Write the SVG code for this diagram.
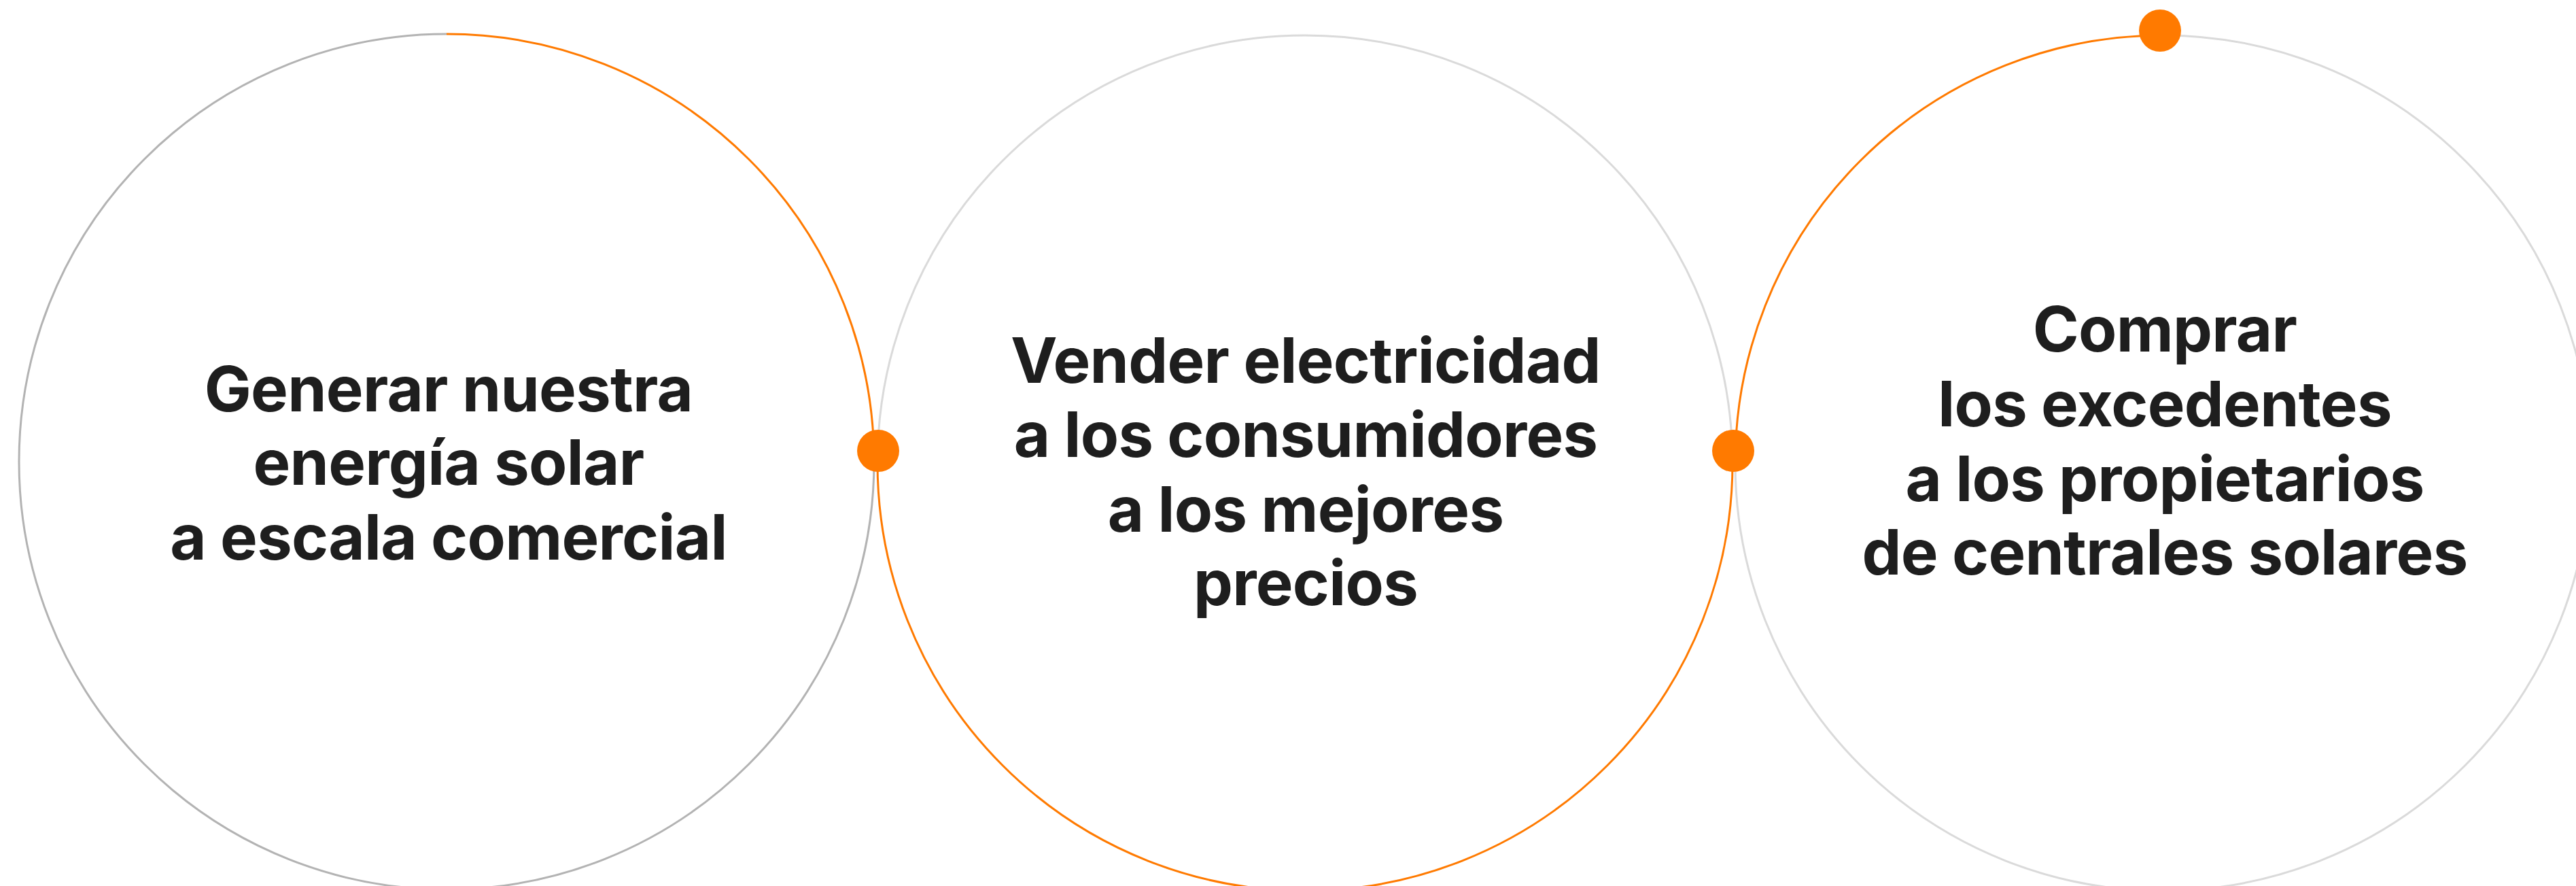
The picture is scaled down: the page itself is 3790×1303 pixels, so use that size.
<svg xmlns="http://www.w3.org/2000/svg" width="3790" height="1303" viewBox="0 0 3790 1303">
<style>
.gd{fill:none;stroke:#b3b3b3;stroke-width:3}
.gl{fill:none;stroke:#dadada;stroke-width:3}
.or{fill:none;stroke:#ff7a00;stroke-width:3}
.dot{fill:#ff7a00}
.t{font-family:Inter,"Liberation Sans",sans-serif;font-weight:700;font-size:92px;letter-spacing:-0.7px;fill:#1e1e1e;text-anchor:middle}
</style>
<rect width="3790" height="1303" fill="#ffffff"/>
<g id="connectors">
<path class="gd" d="M657 50 A629 629 0 1 0 1286 679"/>
<path class="or" d="M657 50 A629 629 0 0 1 1286 679"/>
<path class="gl" d="M1291 681 A629 629 0 0 1 2549 681"/>
<path class="or" d="M1291 681 A629 629 0 0 0 2549 681"/>
<path class="gl" d="M3182 52 A629 629 0 1 1 2553 681"/>
<path class="or" d="M2553 681 A629 629 0 0 1 3182 52"/>
</g>
<g id="dot1"><circle class="dot" cx="1292" cy="663" r="31"/></g>
<g id="dot2"><circle class="dot" cx="2550" cy="663" r="31"/></g>
<g id="dot3"><circle class="dot" cx="3178" cy="45" r="31"/></g>
<g id="node1">
<text class="t" x="660" y="605">Generar nuestra</text>
<text class="t" x="660" y="713">energía solar</text>
<text class="t" x="660" y="823">a escala comercial</text>
</g>
<g id="node2">
<text class="t" x="1921" y="563">Vender electricidad</text>
<text class="t" x="1921" y="672">a los consumidores</text>
<text class="t" x="1921" y="782">a los mejores</text>
<text class="t" x="1921" y="890">precios</text>
</g>
<g id="node3">
<text class="t" x="3185" y="517">Comprar</text>
<text class="t" x="3185" y="627">los excedentes</text>
<text class="t" x="3185" y="737">a los propietarios</text>
<text class="t" x="3185" y="845">de centrales solares</text>
</g>
</svg>
